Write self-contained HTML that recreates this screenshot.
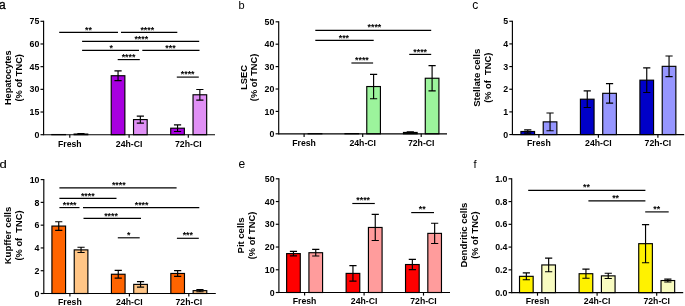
<!DOCTYPE html>
<html lang="en"><head><meta charset="utf-8"><title>Figure</title>
<style>
html,body{margin:0;padding:0;background:#fff;}
svg{display:block;font-family:"Liberation Sans", Arial, Helvetica, sans-serif;font-weight:bold;fill:#000;stroke:none;will-change:transform;}
svg text{white-space:pre;stroke:none;font-kerning:none;font-variant-ligatures:none;}
svg line,svg rect,svg path{stroke:#000;}
</style></head><body>
<svg width="685" height="306" viewBox="0 0 685 306" text-anchor="middle">
<rect width="685" height="306" fill="#fff" style="stroke:none"/>
<g id="panel-a">
<text x="-1" y="8.9" font-size="12" text-anchor="start" font-weight="normal" style="stroke:#000;stroke-width:0.3">a</text>
<rect x="51.82" y="134.55" width="13.65" height="0.15" fill="#a800e0" stroke-width="1.15"/>
<rect x="74.12" y="134.06" width="13.65" height="0.64" fill="#e090f5" stroke-width="1.15"/>
<path d="M80.95 133.69V134.44M77.35 133.69H84.55M77.35 134.44H84.55" fill="none" stroke-width="1.15"/>
<rect x="111.22" y="75.73" width="13.65" height="58.97" fill="#a800e0" stroke-width="1.15"/>
<path d="M118.05 70.89V80.57M114.45 70.89H121.65M114.45 80.57H121.65" fill="none" stroke-width="1.15"/>
<rect x="133.53" y="119.58" width="13.65" height="15.12" fill="#e090f5" stroke-width="1.15"/>
<path d="M140.35 116.1V123.06M136.75 116.1H143.95M136.75 123.06H143.95" fill="none" stroke-width="1.15"/>
<rect x="170.72" y="128.2" width="13.65" height="6.5" fill="#a800e0" stroke-width="1.15"/>
<path d="M177.55 124.87V131.52M173.95 124.87H181.15M173.95 131.52H181.15" fill="none" stroke-width="1.15"/>
<rect x="193.03" y="94.78" width="13.65" height="39.92" fill="#e090f5" stroke-width="1.15"/>
<path d="M199.85 89.49V100.08M196.25 89.49H203.45M196.25 100.08H203.45" fill="none" stroke-width="1.15"/>
<line x1="43.6" y1="20.73" x2="43.6" y2="135.27" stroke-width="1.15"/>
<line x1="43.6" y1="134.7" x2="215" y2="134.7" stroke-width="1.15"/>
<line x1="40.5" y1="134.7" x2="43.6" y2="134.7" stroke-width="1.15"/>
<text x="39.3" y="137.85" font-size="8.8" text-anchor="end">0</text>
<line x1="40.5" y1="112.02" x2="43.6" y2="112.02" stroke-width="1.15"/>
<text x="39.3" y="115.17" font-size="8.8" text-anchor="end">15</text>
<line x1="40.5" y1="89.34" x2="43.6" y2="89.34" stroke-width="1.15"/>
<text x="39.3" y="92.49" font-size="8.8" text-anchor="end">30</text>
<line x1="40.5" y1="66.66" x2="43.6" y2="66.66" stroke-width="1.15"/>
<text x="39.3" y="69.81" font-size="8.8" text-anchor="end">45</text>
<line x1="40.5" y1="43.98" x2="43.6" y2="43.98" stroke-width="1.15"/>
<text x="39.3" y="47.13" font-size="8.8" text-anchor="end">60</text>
<line x1="40.5" y1="21.3" x2="43.6" y2="21.3" stroke-width="1.15"/>
<text x="39.3" y="24.45" font-size="8.8" text-anchor="end">75</text>
<line x1="69.8" y1="134.7" x2="69.8" y2="137.8" stroke-width="1.15"/>
<text x="69.8" y="146.7" font-size="8.7">Fresh</text>
<line x1="129.1" y1="134.7" x2="129.1" y2="137.8" stroke-width="1.15"/>
<text x="129.1" y="146.7" font-size="8.7">24h-CI</text>
<line x1="188.3" y1="134.7" x2="188.3" y2="137.8" stroke-width="1.15"/>
<text x="188.3" y="146.7" font-size="8.7">72h-CI</text>
<text x="0" y="0" font-size="9.2" transform="translate(11.3,77.8) rotate(-90)">Hepatocytes</text>
<text x="0" y="0" font-size="9.3" transform="translate(22.2,77.8) rotate(-90)">(% of TNC)</text>
<line x1="59.2" y1="32.3" x2="118" y2="32.3" stroke-width="1.15"/>
<text x="88.5" y="32.7" font-size="8.8">**</text>
<line x1="121" y1="32.3" x2="177.3" y2="32.3" stroke-width="1.15"/>
<text x="147.3" y="32.7" font-size="8.8">****</text>
<line x1="82.1" y1="41.3" x2="199.2" y2="41.3" stroke-width="1.15"/>
<text x="141.3" y="41.7" font-size="8.8">****</text>
<line x1="82.1" y1="50.3" x2="139" y2="50.3" stroke-width="1.15"/>
<text x="111.3" y="50.7" font-size="8.8">*</text>
<line x1="142.3" y1="50.3" x2="199.5" y2="50.3" stroke-width="1.15"/>
<text x="170.5" y="50.7" font-size="8.8">***</text>
<line x1="117.7" y1="59.6" x2="139.8" y2="59.6" stroke-width="1.15"/>
<text x="128.5" y="60" font-size="8.8">****</text>
<line x1="176.8" y1="77.1" x2="198.8" y2="77.1" stroke-width="1.15"/>
<text x="187.7" y="76.8" font-size="8.8">****</text>
</g>
<g id="panel-b">
<text x="238.5" y="8.5" font-size="11" text-anchor="start" font-weight="normal">b</text>
<rect x="308.18" y="133.67" width="13.65" height="0.13" fill="#9cf49c" stroke-width="1.15"/>
<rect x="344.98" y="133.58" width="13.65" height="0.22" fill="#00a000" stroke-width="1.15"/>
<rect x="366.77" y="86.54" width="13.65" height="47.26" fill="#9cf49c" stroke-width="1.15"/>
<path d="M373.6 74.33V98.74M370 74.33H377.2M370 98.74H377.2" fill="none" stroke-width="1.15"/>
<rect x="403.48" y="132.46" width="13.65" height="1.34" fill="#00a000" stroke-width="1.15"/>
<path d="M410.3 131.78V133.13M406.7 131.78H413.9M406.7 133.13H413.9" fill="none" stroke-width="1.15"/>
<rect x="425.27" y="78.25" width="13.65" height="55.55" fill="#9cf49c" stroke-width="1.15"/>
<path d="M432.1 65.59V90.9M428.5 65.59H435.7M428.5 90.9H435.7" fill="none" stroke-width="1.15"/>
<line x1="278.7" y1="21.23" x2="278.7" y2="134.38" stroke-width="1.15"/>
<line x1="278.7" y1="133.8" x2="447" y2="133.8" stroke-width="1.15"/>
<line x1="275.6" y1="133.8" x2="278.7" y2="133.8" stroke-width="1.15"/>
<text x="274.4" y="136.95" font-size="8.8" text-anchor="end">0</text>
<line x1="275.6" y1="111.4" x2="278.7" y2="111.4" stroke-width="1.15"/>
<text x="274.4" y="114.55" font-size="8.8" text-anchor="end">10</text>
<line x1="275.6" y1="89" x2="278.7" y2="89" stroke-width="1.15"/>
<text x="274.4" y="92.15" font-size="8.8" text-anchor="end">20</text>
<line x1="275.6" y1="66.6" x2="278.7" y2="66.6" stroke-width="1.15"/>
<text x="274.4" y="69.75" font-size="8.8" text-anchor="end">30</text>
<line x1="275.6" y1="44.2" x2="278.7" y2="44.2" stroke-width="1.15"/>
<text x="274.4" y="47.35" font-size="8.8" text-anchor="end">40</text>
<line x1="275.6" y1="21.8" x2="278.7" y2="21.8" stroke-width="1.15"/>
<text x="274.4" y="24.95" font-size="8.8" text-anchor="end">50</text>
<line x1="304.1" y1="133.8" x2="304.1" y2="136.9" stroke-width="1.15"/>
<text x="304.1" y="145.8" font-size="8.7">Fresh</text>
<line x1="362.7" y1="133.8" x2="362.7" y2="136.9" stroke-width="1.15"/>
<text x="362.7" y="145.8" font-size="8.7">24h-CI</text>
<line x1="421.2" y1="133.8" x2="421.2" y2="136.9" stroke-width="1.15"/>
<text x="421.2" y="145.8" font-size="8.7">72h-CI</text>
<text x="0" y="0" font-size="9.35" transform="translate(246.8,77.4) rotate(-90)">LSEC</text>
<text x="0" y="0" font-size="9.3" transform="translate(257.3,77.4) rotate(-90)">(% of TNC)</text>
<line x1="315.3" y1="30.3" x2="431.2" y2="30.3" stroke-width="1.15"/>
<text x="374.4" y="30.1" font-size="8.8">****</text>
<line x1="315.3" y1="40.4" x2="373.7" y2="40.4" stroke-width="1.15"/>
<text x="343.9" y="40.8" font-size="8.8">***</text>
<line x1="351.4" y1="63" x2="373.1" y2="63" stroke-width="1.15"/>
<text x="361.9" y="63.4" font-size="8.8">****</text>
<line x1="409.2" y1="54.4" x2="431.2" y2="54.4" stroke-width="1.15"/>
<text x="420.2" y="54.8" font-size="8.8">****</text>
</g>
<g id="panel-c">
<text x="472.3" y="8.7" font-size="12" text-anchor="start" font-weight="normal">c</text>
<rect x="520.92" y="131.49" width="13.65" height="3.06" fill="#0000c8" stroke-width="1.15"/>
<path d="M527.75 129.9V133.08M524.15 129.9H531.35M524.15 133.08H531.35" fill="none" stroke-width="1.15"/>
<rect x="543.22" y="121.86" width="13.65" height="12.69" fill="#9696ff" stroke-width="1.15"/>
<path d="M550.05 113.02V130.7M546.45 113.02H553.65M546.45 130.7H553.65" fill="none" stroke-width="1.15"/>
<rect x="580.42" y="99.2" width="13.65" height="35.35" fill="#0000c8" stroke-width="1.15"/>
<path d="M587.25 90.93V107.47M583.65 90.93H590.85M583.65 107.47H590.85" fill="none" stroke-width="1.15"/>
<rect x="602.72" y="93.31" width="13.65" height="41.24" fill="#9696ff" stroke-width="1.15"/>
<path d="M609.55 83.56V103.05M605.95 83.56H613.15M605.95 103.05H613.15" fill="none" stroke-width="1.15"/>
<rect x="639.92" y="80.17" width="13.65" height="54.38" fill="#0000c8" stroke-width="1.15"/>
<path d="M646.75 67.82V92.52M643.15 67.82H650.35M643.15 92.52H650.35" fill="none" stroke-width="1.15"/>
<rect x="662.22" y="66.34" width="13.65" height="68.21" fill="#9696ff" stroke-width="1.15"/>
<path d="M669.05 56.03V76.65M665.45 56.03H672.65M665.45 76.65H672.65" fill="none" stroke-width="1.15"/>
<line x1="512.4" y1="20.68" x2="512.4" y2="135.12" stroke-width="1.15"/>
<line x1="512.4" y1="134.55" x2="684.2" y2="134.55" stroke-width="1.15"/>
<line x1="509.3" y1="134.55" x2="512.4" y2="134.55" stroke-width="1.15"/>
<text x="508.1" y="137.7" font-size="8.8" text-anchor="end">0</text>
<line x1="509.3" y1="111.89" x2="512.4" y2="111.89" stroke-width="1.15"/>
<text x="508.1" y="115.04" font-size="8.8" text-anchor="end">1</text>
<line x1="509.3" y1="89.23" x2="512.4" y2="89.23" stroke-width="1.15"/>
<text x="508.1" y="92.38" font-size="8.8" text-anchor="end">2</text>
<line x1="509.3" y1="66.57" x2="512.4" y2="66.57" stroke-width="1.15"/>
<text x="508.1" y="69.72" font-size="8.8" text-anchor="end">3</text>
<line x1="509.3" y1="43.91" x2="512.4" y2="43.91" stroke-width="1.15"/>
<text x="508.1" y="47.06" font-size="8.8" text-anchor="end">4</text>
<line x1="509.3" y1="21.25" x2="512.4" y2="21.25" stroke-width="1.15"/>
<text x="508.1" y="24.4" font-size="8.8" text-anchor="end">5</text>
<line x1="538.9" y1="134.55" x2="538.9" y2="137.65" stroke-width="1.15"/>
<text x="538.9" y="146.2" font-size="8.7">Fresh</text>
<line x1="598.4" y1="134.55" x2="598.4" y2="137.65" stroke-width="1.15"/>
<text x="598.4" y="146.2" font-size="8.7">24h-CI</text>
<line x1="657.9" y1="134.55" x2="657.9" y2="137.65" stroke-width="1.15"/>
<text x="657.9" y="146.2" font-size="8.7">72h-CI</text>
<text x="0" y="0" font-size="9.6" transform="translate(480.3,77.8) rotate(-90)">Stellate cells</text>
<text x="0" y="0" font-size="9.3" transform="translate(490.9,77.8) rotate(-90)">(% of  TNC)</text>
</g>
<g id="panel-d">
<text x="0" y="0" font-size="10.9" text-anchor="start" font-weight="normal" style="stroke:#000;stroke-width:0.12" transform="translate(-0.5,168) scale(1.2,1)">d</text>
<rect x="51.93" y="226.07" width="13.65" height="67.43" fill="#ff6400" stroke-width="1.15"/>
<path d="M58.75 221.74V230.4M55.15 221.74H62.35M55.15 230.4H62.35" fill="none" stroke-width="1.15"/>
<rect x="74.23" y="249.88" width="13.65" height="43.62" fill="#ffc586" stroke-width="1.15"/>
<path d="M81.05 247.26V252.5M77.45 247.26H84.65M77.45 252.5H84.65" fill="none" stroke-width="1.15"/>
<rect x="111.42" y="274.25" width="13.65" height="19.25" fill="#ff6400" stroke-width="1.15"/>
<path d="M118.25 270.38V278.12M114.65 270.38H121.85M114.65 278.12H121.85" fill="none" stroke-width="1.15"/>
<rect x="133.73" y="284.39" width="13.65" height="9.11" fill="#ffc586" stroke-width="1.15"/>
<path d="M140.55 281.65V287.12M136.95 281.65H144.15M136.95 287.12H144.15" fill="none" stroke-width="1.15"/>
<rect x="170.83" y="273.45" width="13.65" height="20.05" fill="#ff6400" stroke-width="1.15"/>
<path d="M177.65 270.61V276.3M174.05 270.61H181.25M174.05 276.3H181.25" fill="none" stroke-width="1.15"/>
<rect x="193.13" y="290.65" width="13.65" height="2.85" fill="#ffc586" stroke-width="1.15"/>
<path d="M199.95 289.51V291.79M196.35 289.51H203.55M196.35 291.79H203.55" fill="none" stroke-width="1.15"/>
<line x1="43.8" y1="179.03" x2="43.8" y2="294.07" stroke-width="1.15"/>
<line x1="43.8" y1="293.5" x2="215.8" y2="293.5" stroke-width="1.15"/>
<line x1="40.7" y1="293.5" x2="43.8" y2="293.5" stroke-width="1.15"/>
<text x="39.5" y="296.65" font-size="8.8" text-anchor="end">0</text>
<line x1="40.7" y1="270.72" x2="43.8" y2="270.72" stroke-width="1.15"/>
<text x="39.5" y="273.87" font-size="8.8" text-anchor="end">2</text>
<line x1="40.7" y1="247.94" x2="43.8" y2="247.94" stroke-width="1.15"/>
<text x="39.5" y="251.09" font-size="8.8" text-anchor="end">4</text>
<line x1="40.7" y1="225.16" x2="43.8" y2="225.16" stroke-width="1.15"/>
<text x="39.5" y="228.31" font-size="8.8" text-anchor="end">6</text>
<line x1="40.7" y1="202.38" x2="43.8" y2="202.38" stroke-width="1.15"/>
<text x="39.5" y="205.53" font-size="8.8" text-anchor="end">8</text>
<line x1="40.7" y1="179.6" x2="43.8" y2="179.6" stroke-width="1.15"/>
<text x="39.5" y="182.75" font-size="8.8" text-anchor="end">10</text>
<line x1="69.9" y1="293.5" x2="69.9" y2="296.6" stroke-width="1.15"/>
<text x="69.9" y="304.5" font-size="8.7">Fresh</text>
<line x1="129.4" y1="293.5" x2="129.4" y2="296.6" stroke-width="1.15"/>
<text x="129.4" y="304.5" font-size="8.7">24h-CI</text>
<line x1="188.8" y1="293.5" x2="188.8" y2="296.6" stroke-width="1.15"/>
<text x="188.8" y="304.5" font-size="8.7">72h-CI</text>
<text x="0" y="0" font-size="9.5" transform="translate(11.3,235.5) rotate(-90)">Kupffer cells</text>
<text x="0" y="0" font-size="9.3" transform="translate(22,235.5) rotate(-90)">(% of  TNC)</text>
<line x1="59.4" y1="187.9" x2="176.6" y2="187.9" stroke-width="1.15"/>
<text x="118.8" y="188.3" font-size="8.8">****</text>
<line x1="59.4" y1="198.3" x2="116.5" y2="198.3" stroke-width="1.15"/>
<text x="87.8" y="198.5" font-size="8.8">****</text>
<line x1="59.4" y1="207.6" x2="79.5" y2="207.6" stroke-width="1.15"/>
<text x="69.7" y="208" font-size="8.8">****</text>
<line x1="83" y1="207.6" x2="199.3" y2="207.6" stroke-width="1.15"/>
<text x="141.6" y="208" font-size="8.8">****</text>
<line x1="83.5" y1="218.3" x2="141" y2="218.3" stroke-width="1.15"/>
<text x="111" y="218.5" font-size="8.8">****</text>
<line x1="117.8" y1="237.8" x2="139.7" y2="237.8" stroke-width="1.15"/>
<text x="128.8" y="238.2" font-size="8.8">*</text>
<line x1="176.9" y1="238.3" x2="198.8" y2="238.3" stroke-width="1.15"/>
<text x="187.8" y="237.7" font-size="8.8">***</text>
</g>
<g id="panel-e">
<text x="238.6" y="167.7" font-size="12" text-anchor="start" font-weight="normal">e</text>
<rect x="286.63" y="253.61" width="13.65" height="38.89" fill="#ff0000" stroke-width="1.15"/>
<path d="M293.45 251.34V255.89M289.85 251.34H297.05M289.85 255.89H297.05" fill="none" stroke-width="1.15"/>
<rect x="308.93" y="252.71" width="13.65" height="39.79" fill="#ff9c9c" stroke-width="1.15"/>
<path d="M315.75 249.41V256M312.15 249.41H319.35M312.15 256H319.35" fill="none" stroke-width="1.15"/>
<rect x="346.13" y="273.4" width="13.65" height="19.1" fill="#ff0000" stroke-width="1.15"/>
<path d="M352.95 265.67V281.13M349.35 265.67H356.55M349.35 281.13H356.55" fill="none" stroke-width="1.15"/>
<rect x="368.43" y="227.46" width="13.65" height="65.04" fill="#ff9c9c" stroke-width="1.15"/>
<path d="M375.25 214.39V240.54M371.65 214.39H378.85M371.65 240.54H378.85" fill="none" stroke-width="1.15"/>
<rect x="405.53" y="264.53" width="13.65" height="27.97" fill="#ff0000" stroke-width="1.15"/>
<path d="M412.35 259.41V269.65M408.75 259.41H415.95M408.75 269.65H415.95" fill="none" stroke-width="1.15"/>
<rect x="427.82" y="233.38" width="13.65" height="59.12" fill="#ff9c9c" stroke-width="1.15"/>
<path d="M434.65 223.26V243.5M431.05 223.26H438.25M431.05 243.5H438.25" fill="none" stroke-width="1.15"/>
<line x1="278.9" y1="178.23" x2="278.9" y2="293.07" stroke-width="1.15"/>
<line x1="278.9" y1="292.5" x2="450" y2="292.5" stroke-width="1.15"/>
<line x1="275.8" y1="292.5" x2="278.9" y2="292.5" stroke-width="1.15"/>
<text x="274.6" y="295.65" font-size="8.8" text-anchor="end">0</text>
<line x1="275.8" y1="269.76" x2="278.9" y2="269.76" stroke-width="1.15"/>
<text x="274.6" y="272.91" font-size="8.8" text-anchor="end">10</text>
<line x1="275.8" y1="247.02" x2="278.9" y2="247.02" stroke-width="1.15"/>
<text x="274.6" y="250.17" font-size="8.8" text-anchor="end">20</text>
<line x1="275.8" y1="224.28" x2="278.9" y2="224.28" stroke-width="1.15"/>
<text x="274.6" y="227.43" font-size="8.8" text-anchor="end">30</text>
<line x1="275.8" y1="201.54" x2="278.9" y2="201.54" stroke-width="1.15"/>
<text x="274.6" y="204.69" font-size="8.8" text-anchor="end">40</text>
<line x1="275.8" y1="178.8" x2="278.9" y2="178.8" stroke-width="1.15"/>
<text x="274.6" y="181.95" font-size="8.8" text-anchor="end">50</text>
<line x1="304.6" y1="292.5" x2="304.6" y2="295.6" stroke-width="1.15"/>
<text x="304.6" y="304" font-size="8.7">Fresh</text>
<line x1="364.1" y1="292.5" x2="364.1" y2="295.6" stroke-width="1.15"/>
<text x="364.1" y="304" font-size="8.7">24h-CI</text>
<line x1="423.5" y1="292.5" x2="423.5" y2="295.6" stroke-width="1.15"/>
<text x="423.5" y="304" font-size="8.7">72h-CI</text>
<text x="0" y="0" font-size="9.5" transform="translate(244,235.5) rotate(-90)">Pit cells</text>
<text x="0" y="0" font-size="9.3" transform="translate(254.6,235.5) rotate(-90)">(% of TNC)</text>
<line x1="352.3" y1="203.5" x2="374.8" y2="203.5" stroke-width="1.15"/>
<text x="363.2" y="203.2" font-size="8.8">****</text>
<line x1="411.2" y1="212.6" x2="434" y2="212.6" stroke-width="1.15"/>
<text x="422.3" y="211.9" font-size="8.8">**</text>
</g>
<g id="panel-f">
<text x="473.4" y="167.9" font-size="11.2" text-anchor="start" font-weight="normal">f</text>
<rect x="519.52" y="276.33" width="13.65" height="16.27" fill="#fff200" stroke-width="1.15"/>
<path d="M526.35 272.91V279.74M522.75 272.91H529.95M522.75 279.74H529.95" fill="none" stroke-width="1.15"/>
<rect x="541.82" y="264.95" width="13.65" height="27.65" fill="#f8fbc0" stroke-width="1.15"/>
<path d="M548.65 258.12V271.77M545.05 258.12H552.25M545.05 271.77H552.25" fill="none" stroke-width="1.15"/>
<rect x="579.12" y="273.71" width="13.65" height="18.89" fill="#fff200" stroke-width="1.15"/>
<path d="M585.95 269.16V278.26M582.35 269.16H589.55M582.35 278.26H589.55" fill="none" stroke-width="1.15"/>
<rect x="601.42" y="275.87" width="13.65" height="16.73" fill="#f8fbc0" stroke-width="1.15"/>
<path d="M608.25 273.25V278.49M604.65 273.25H611.85M604.65 278.49H611.85" fill="none" stroke-width="1.15"/>
<rect x="638.73" y="243.67" width="13.65" height="48.93" fill="#fff200" stroke-width="1.15"/>
<path d="M645.55 224.55V262.78M641.95 224.55H649.15M641.95 262.78H649.15" fill="none" stroke-width="1.15"/>
<rect x="661.02" y="280.54" width="13.65" height="12.06" fill="#f8fbc0" stroke-width="1.15"/>
<path d="M667.85 279.06V282.02M664.25 279.06H671.45M664.25 282.02H671.45" fill="none" stroke-width="1.15"/>
<line x1="511.7" y1="178.23" x2="511.7" y2="293.18" stroke-width="1.15"/>
<line x1="511.7" y1="292.6" x2="683.2" y2="292.6" stroke-width="1.15"/>
<line x1="508.6" y1="292.6" x2="511.7" y2="292.6" stroke-width="1.15"/>
<text x="507.4" y="295.75" font-size="8.8" text-anchor="end">0.0</text>
<line x1="508.6" y1="269.84" x2="511.7" y2="269.84" stroke-width="1.15"/>
<text x="507.4" y="272.99" font-size="8.8" text-anchor="end">0.2</text>
<line x1="508.6" y1="247.08" x2="511.7" y2="247.08" stroke-width="1.15"/>
<text x="507.4" y="250.23" font-size="8.8" text-anchor="end">0.4</text>
<line x1="508.6" y1="224.32" x2="511.7" y2="224.32" stroke-width="1.15"/>
<text x="507.4" y="227.47" font-size="8.8" text-anchor="end">0.6</text>
<line x1="508.6" y1="201.56" x2="511.7" y2="201.56" stroke-width="1.15"/>
<text x="507.4" y="204.71" font-size="8.8" text-anchor="end">0.8</text>
<line x1="508.6" y1="178.8" x2="511.7" y2="178.8" stroke-width="1.15"/>
<text x="507.4" y="181.95" font-size="8.8" text-anchor="end">1.0</text>
<line x1="537.5" y1="292.6" x2="537.5" y2="295.7" stroke-width="1.15"/>
<text x="537.5" y="304" font-size="8.7">Fresh</text>
<line x1="597.1" y1="292.6" x2="597.1" y2="295.7" stroke-width="1.15"/>
<text x="597.1" y="304" font-size="8.7">24h-CI</text>
<line x1="656.7" y1="292.6" x2="656.7" y2="295.7" stroke-width="1.15"/>
<text x="656.7" y="304" font-size="8.7">72h-CI</text>
<text x="0" y="0" font-size="9.5" transform="translate(467.4,235.1) rotate(-90)">Dendritic cells</text>
<text x="0" y="0" font-size="9.3" transform="translate(478,235.1) rotate(-90)">(% of TNC)</text>
<line x1="528.2" y1="190.3" x2="645.4" y2="190.3" stroke-width="1.15"/>
<text x="586.4" y="189.7" font-size="8.8">**</text>
<line x1="588.4" y1="200.8" x2="645.4" y2="200.8" stroke-width="1.15"/>
<text x="615.6" y="201.2" font-size="8.8">**</text>
<line x1="645.2" y1="211.9" x2="668.7" y2="211.9" stroke-width="1.15"/>
<text x="656.7" y="211.6" font-size="8.8">**</text>
</g>
</svg>
</body></html>
